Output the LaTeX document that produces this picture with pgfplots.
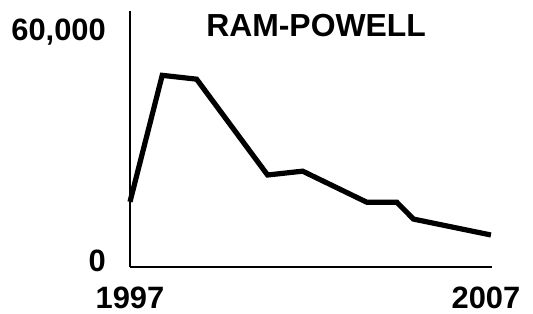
\documentclass[border=0pt]{standalone}
\usepackage{pgfplots}
\pgfplotsset{compat=1.18}
\usepackage{fontspec}
\setmainfont{Liberation Sans}
\begin{document}
\begin{tikzpicture}
\useasboundingbox (-130bp,-47bp) rectangle (403bp,267bp);
\begin{axis}[
  at={(0,0)}, anchor=origin,
  scale only axis, width=362bp, height=256bp,
  xmin=0, xmax=10, ymin=0, ymax=66780,
  scaled y ticks=false,
  axis x line=bottom, axis y line=left,
  axis line style={-, line width=1.4bp, black},
  xtick={0,10}, xticklabels={1997,2007\hspace*{12bp}},
  ytick={0,60000}, yticklabels={0,{60,000}},
  major tick length=0pt,
  xticklabel style={anchor=north, inner sep=0pt, yshift=-20bp, font=\fontsize{31}{32}\selectfont\bfseries},
  yticklabel style={anchor=base east, inner sep=0pt, xshift=-24bp, yshift=-4bp, font=\fontsize{31}{32}\selectfont\bfseries},
  clip=false,
]
\addplot[black, line width=5.2bp, line join=miter, mark=none] coordinates {
  (0,17000) (0.89,50000) (1.84,49000) (3.80,24000) (4.77,25000)
  (6.54,16900) (7.37,16900) (7.83,12500) (9.97,8350)
};
\node[anchor=base, inner sep=0pt, font=\fontsize{32}{33}\selectfont\bfseries] at (axis description cs:0.514,0.8996) {RAM-POWELL};
\end{axis}
\end{tikzpicture}
\end{document}
